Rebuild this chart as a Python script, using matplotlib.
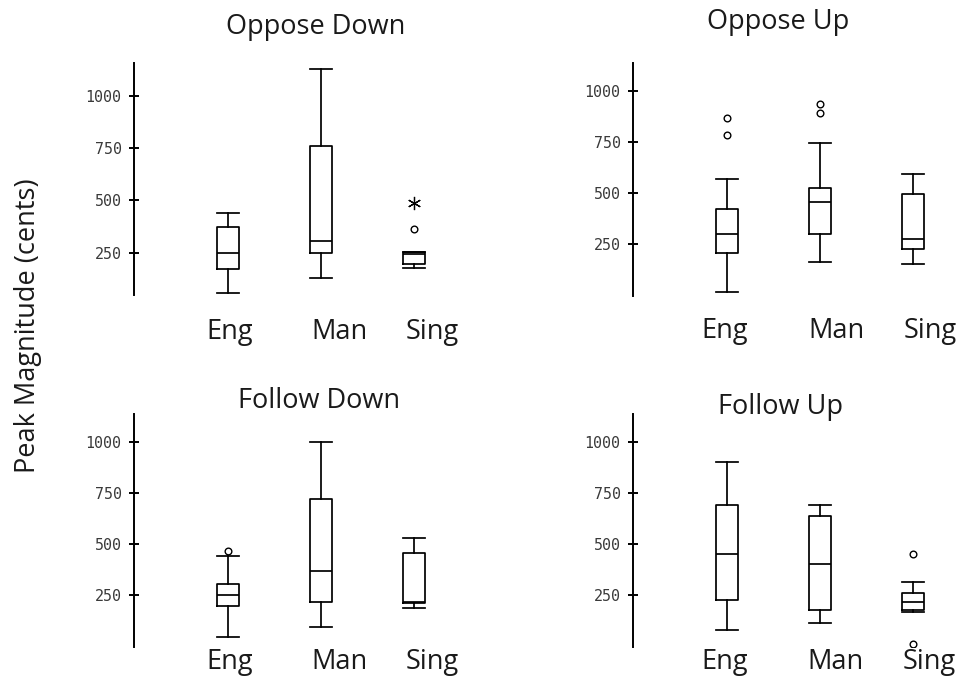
"""
Peak magnitude box plots for the four response conditions (2x2 grid).
"""

import numpy as np
import matplotlib
matplotlib.use("Agg")
import matplotlib.pyplot as plt


GROUPS = ["Eng", "Man", "Sing"]
Y_TICKS = [250, 500, 750, 1000]
Y_LABEL = "Peak Magnitude (cents)"

# rows: lower whisker, Q1, median, Q3, upper whisker; columns follow GROUPS
oppose_down = np.array([
    [56, 131, 175],
    [171, 250, 196],
    [250, 306, 245],
    [374, 762, 255],
    [441, 1128, 255],
])
oppose_down_outliers = [[], [], [363]]
oppose_down_extremes = [[], [], [489]]

oppose_up = np.array([
    [17, 162, 154],
    [209, 300, 226],
    [300, 458, 274],
    [421, 523, 494],
    [567, 743, 593],
])
oppose_up_outliers = [[784, 868], [890, 933], []]
oppose_up_extremes = [[], [], []]

follow_down = np.array([
    [46, 91, 184],
    [196, 217, 212],
    [250, 367, 217],
    [303, 718, 454],
    [440, 1000, 527],
])
follow_down_outliers = [[466], [], []]
follow_down_extremes = [[], [], []]

follow_up = np.array([
    [78, 114, 166],
    [224, 176, 176],
    [449, 401, 214],
    [690, 637, 261],
    [902, 688, 315],
])
follow_up_outliers = [[], [], [449, 8]]
follow_up_extremes = [[], [], []]

W, H = 958, 676
LABEL_FONT = ["Open Sans", "DejaVu Sans"]
LABEL_SIZE = 19.5
TEXT_COLOR = "#1a1a1a"

# pixel layout of each panel: axis spine (left, top, bottom), y range,
# title centre/baseline, group label centres/baseline
PANELS = [
    dict(title="Oppose Down", stats=oppose_down, out=oppose_down_outliers,
         ext=oppose_down_extremes, left=134, top=63, bottom=295, ylim=(48, 1157),
         title_xy=(315.5, 34), label_x=[229.5, 339.5, 432.5], label_y=339),
    dict(title="Oppose Up", stats=oppose_up, out=oppose_up_outliers,
         ext=oppose_up_extremes, left=633, top=63.3, bottom=295.7, ylim=(-1, 1134),
         title_xy=(778.5, 29), label_x=[725, 836.5, 930], label_y=338),
    dict(title="Follow Down", stats=follow_down, out=follow_down_outliers,
         ext=follow_down_extremes, left=134, top=414, bottom=646.7, ylim=(-3, 1135),
         title_xy=(319.5, 408), label_x=[229.5, 339.5, 432.5], label_y=669),
    dict(title="Follow Up", stats=follow_up, out=follow_up_outliers,
         ext=follow_up_extremes, left=633, top=414, bottom=646.7, ylim=(-3, 1135),
         title_xy=(780, 414), label_x=[725, 836, 929], label_y=669),
]

PX_PER_UNIT = 93
XLIM = (-0.01, 3.5)
BOX_W = 22 / PX_PER_UNIT
LW = 1.25


def fig_x(px):
    return px / W


def fig_y(px):
    return 1 - px / H


def box_stats(table, outliers):
    stats = []
    for i in range(table.shape[1]):
        lo, q1, med, q3, hi = table[:, i]
        stats.append(dict(whislo=lo, q1=q1, med=med, q3=q3, whishi=hi,
                          fliers=np.array(outliers[i], dtype=float)))
    return stats


def draw_panel(fig, panel):
    width_px = (XLIM[1] - XLIM[0]) * PX_PER_UNIT
    ax = fig.add_axes([
        fig_x(panel["left"]),
        fig_y(panel["bottom"]),
        width_px / W,
        (panel["bottom"] - panel["top"]) / H,
    ])
    ax.set_xlim(*XLIM)
    ax.set_ylim(*panel["ylim"])

    line = dict(color="black", linewidth=LW)
    positions = [1, 2, 3]
    ax.bxp(
        box_stats(panel["stats"], panel["out"]),
        positions=positions,
        widths=BOX_W,
        capwidths=BOX_W,
        boxprops=line,
        whiskerprops=line,
        capprops=line,
        medianprops=line,
        flierprops=dict(marker="o", markerfacecolor="none", markeredgecolor="black",
                        markersize=4.8, markeredgewidth=1.0, linestyle="none"),
        manage_ticks=False,
    )

    # extreme values drawn as asterisks
    for pos, vals in zip(positions, panel["ext"]):
        if vals:
            ax.plot([pos] * len(vals), vals, linestyle="none", marker=(6, 2, 0),
                    markersize=9.5, markeredgewidth=0.9, color="black")

    for side in ("top", "right", "bottom"):
        ax.spines[side].set_visible(False)
    ax.spines["left"].set_linewidth(1.4)
    ax.set_xticks([])
    ax.set_yticks(Y_TICKS)
    ax.tick_params(axis="y", direction="inout", length=7.2, width=1.4, pad=5.3,
                   labelsize=10.8, labelcolor="#3a3a3a")
    for lab in ax.get_yticklabels():
        lab.set_family("DejaVu Sans Mono")

    tx, ty = panel["title_xy"]
    fig.text(fig_x(tx), fig_y(ty), panel["title"], ha="center", va="baseline",
             family=LABEL_FONT, fontsize=LABEL_SIZE, color=TEXT_COLOR)
    for name, lx in zip(GROUPS, panel["label_x"]):
        fig.text(fig_x(lx), fig_y(panel["label_y"]), name, ha="center", va="baseline",
                 family=LABEL_FONT, fontsize=LABEL_SIZE, color=TEXT_COLOR)


def main():
    fig = plt.figure(figsize=(W / 100, H / 100), dpi=100)
    fig.patch.set_facecolor("white")

    for panel in PANELS:
        draw_panel(fig, panel)

    fig.text(fig_x(28.5), fig_y(326), Y_LABEL, rotation=90, ha="center", va="center",
             family=LABEL_FONT, fontsize=LABEL_SIZE, color=TEXT_COLOR)

    fig.savefig("out.png", dpi=100, facecolor="white")
    plt.close(fig)


if __name__ == "__main__":
    main()
